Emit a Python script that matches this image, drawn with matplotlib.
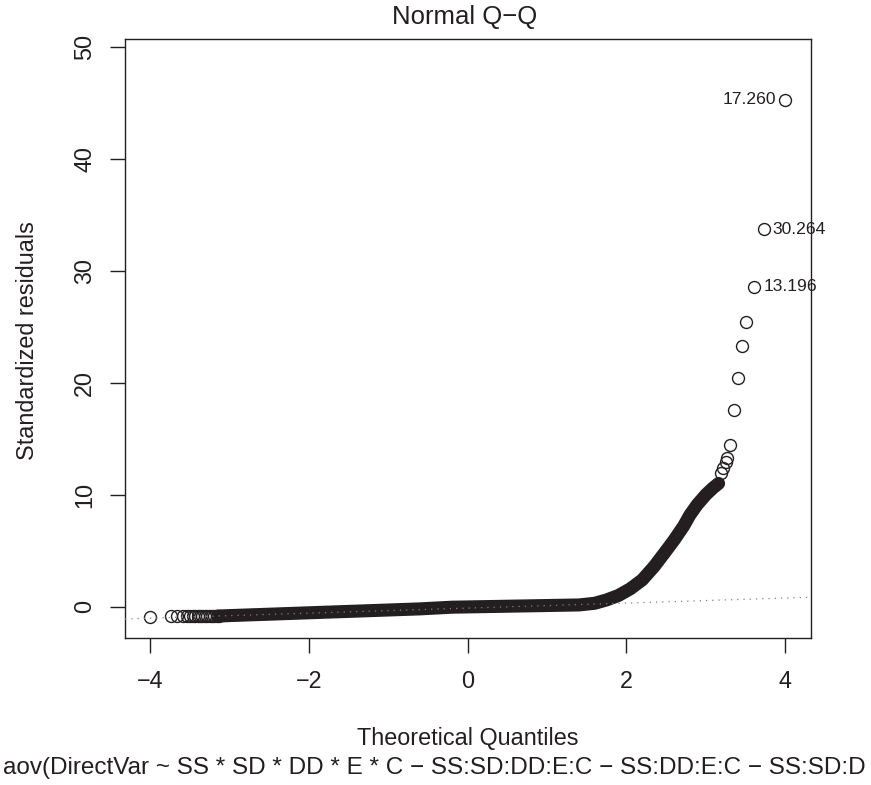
import matplotlib
matplotlib.use("Agg")
import matplotlib.pyplot as plt

plt.rcParams['font.family'] = ['Liberation Sans', 'DejaVu Sans']
plt.rcParams['axes.unicode_minus'] = True

# low tail: separate circles
low_x = [-4.0, -3.73, -3.66, -3.59, -3.54, -3.50, -3.46, -3.43, -3.40,
         -3.37, -3.34, -3.31, -3.28, -3.25, -3.22, -3.19, -3.16, -3.13]
low_y = [-0.90, -0.88, -0.88, -0.87, -0.87, -0.87, -0.86, -0.86, -0.86,
         -0.86, -0.85, -0.85, -0.85, -0.85, -0.84, -0.84, -0.84, -0.83]

# dense middle part (overlapping circles form a solid band)
band_x = [-3.15, -3.0, -2.6, -2.2, -1.8, -1.4, -1.0, -0.6, -0.2, 0.2, 0.6,
          1.0, 1.4, 1.6, 1.75, 1.9, 2.05, 2.2, 2.35, 2.5, 2.6, 2.72, 2.8,
          2.89, 3.0, 3.09, 3.16]
band_y = [-0.84, -0.8, -0.7, -0.6, -0.5, -0.4, -0.3, -0.2, -0.05, 0.0, 0.05,
          0.1, 0.15, 0.3, 0.6, 1.0, 1.6, 2.4, 3.6, 5.0, 5.95, 7.2, 8.2,
          9.1, 10.0, 10.6, 11.0]

# upper tail: separate circles
high_x = [3.19, 3.22, 3.25, 3.27, 3.31, 3.35, 3.40, 3.45, 3.51, 3.61, 3.73, 4.00]
high_y = [11.9, 12.4, 12.9, 13.25, 14.4, 17.6, 20.4, 23.3, 25.4, 28.55, 33.7, 45.24]

# labelled points
lab_x = [4.00, 3.73, 3.61]
lab_y = [45.24, 33.7, 28.55]
lab_text = ['17.260', '30.264', '13.196']
lab_side = ['left', 'right', 'right']

# qqline
qq_intercept = -0.13
qq_slope = 0.225

x_ticks = [-4, -2, 0, 2, 4]
y_ticks = [0, 10, 20, 30, 40, 50]

W, H = 871, 785
fig = plt.figure(figsize=(W / 100, H / 100), dpi=100)
ax = fig.add_axes([125 / W, 1 - 638 / H, (810.7 - 125) / W, (638 - 39.3) / H])

col = '#231f20'
fs = 16.8

ax.plot(band_x, band_y, color=col, lw=9.4, solid_capstyle='round',
        solid_joinstyle='round', zorder=2)
ax.plot(low_x, low_y, 'o', mfc='none', mec=col, ms=8.6, mew=1.0, zorder=3)
ax.plot(high_x, high_y, 'o', mfc='none', mec=col, ms=8.6, mew=1.0, zorder=3)
ax.axline((0, qq_intercept), slope=qq_slope, color='#808080', lw=0.9,
          linestyle=(0, (1, 4)), zorder=4)

for x, y, t, side in zip(lab_x, lab_y, lab_text, lab_side):
    dx = -6.5 if side == 'left' else 6.5
    ax.annotate(t, (x, y), xytext=(dx, 0), textcoords='offset points',
                ha='right' if side == 'left' else 'left', va='center',
                fontsize=12.6, color=col)

ax.set_xlim(-4.315, 4.32)
ax.set_ylim(-2.8, 50.66)
ax.set_xticks(x_ticks)
ax.set_yticks(y_ticks)
ax.set_xticklabels([str(v).replace('-', '\u2212') for v in x_ticks], fontsize=fs)
ax.set_yticklabels([str(v) for v in y_ticks], fontsize=fs, rotation=90, va='center')
ax.tick_params(length=10.8, width=1.0, color=col, labelcolor=col)
ax.tick_params(axis='x', pad=12.3)
ax.tick_params(axis='y', pad=10)
for s in ax.spines.values():
    s.set_linewidth(1.0)
    s.set_color(col)

fig.text(465 / W, 1 - 24 / H, 'Normal Q\u2212Q', ha='center', va='baseline',
         fontsize=18.5, color=col)
fig.text(467.5 / W, 1 - 745.5 / H, 'Theoretical Quantiles', ha='center',
         va='baseline', fontsize=fs, color=col)
fig.text(3 / W, 1 - 774 / H,
         'aov(DirectVar ~ SS * SD * DD * E * C \u2212 SS:SD:DD:E:C \u2212 '
         'SS:DD:E:C \u2212 SS:SD:D', ha='left', va='baseline', fontsize=17.5,
         color=col)
fig.text(27 / W, 1 - 341 / H, 'Standardized residuals', rotation=90,
         ha='center', va='center', fontsize=fs, color=col)

fig.savefig('out.png', dpi=100)
